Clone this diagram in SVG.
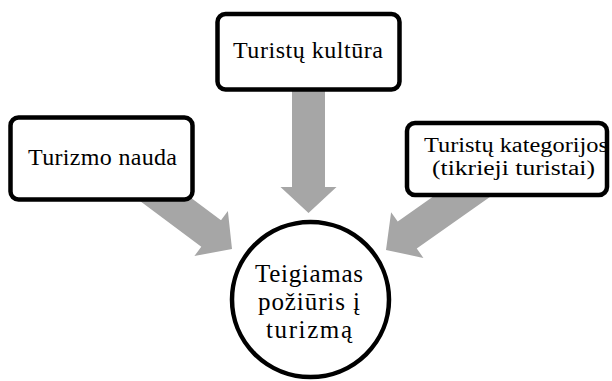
<svg xmlns="http://www.w3.org/2000/svg" width="612" height="381" viewBox="0 0 612 381">
<style>
.box{fill:#ffffff;stroke:#000000;stroke-width:4.5}
.arr{fill:#a6a6a6;stroke:none}
.t{font-family:"Liberation Serif","Times New Roman",serif;font-size:24px;fill:#000000;text-anchor:middle}
.r{font-size:20.5px}
.c{font-size:25px}
</style>
<defs>
<polygon id="arrowTop" points="0,0 -26,-28 -26,-16.5 -128,-16.5 -128,16.5 -26,16.5 -26,28"/>
<polygon id="arrowSide" points="0,0 -26,-28 -26,-16.5 -125,-16.5 -125,16.5 -26,16.5 -26,28"/>
</defs>
<rect width="612" height="381" fill="#ffffff"/>
<g id="connectors">
<use href="#arrowTop" class="arr" transform="translate(308.5,213) rotate(90)"/>
<use href="#arrowSide" class="arr" transform="translate(232,249) rotate(36.7)"/>
<use href="#arrowSide" class="arr" transform="translate(386,250) rotate(144.8)"/>
</g>
<g id="node-kultura">
<rect class="box" x="217.5" y="14" width="182" height="75.5" rx="8"/>
<text class="t" x="308" y="57.5" textLength="150">Turistų kultūra</text>
</g>
<g id="node-nauda">
<rect class="box" x="10.5" y="117.5" width="182" height="82" rx="8"/>
<text class="t" x="102.5" y="164.5" textLength="149">Turizmo nauda</text>
</g>
<g id="node-kategorijos">
<rect class="box" x="407" y="123" width="200" height="72" rx="8"/>
<text class="t r" x="516" y="151.5" textLength="184" lengthAdjust="spacingAndGlyphs">Turistų kategorijos</text>
<text class="t r" x="513.5" y="174.5" textLength="163" lengthAdjust="spacingAndGlyphs">(tikrieji turistai)</text>
</g>
<g id="node-poziuris">
<ellipse class="box" cx="310.5" cy="299.5" rx="78.5" ry="77.5"/>
<text class="t c" x="309" y="282" textLength="108">Teigiamas</text>
<text class="t c" x="309" y="310" textLength="102">požiūris į</text>
<text class="t c" x="309" y="338" textLength="86">turizmą</text>
</g>
</svg>
